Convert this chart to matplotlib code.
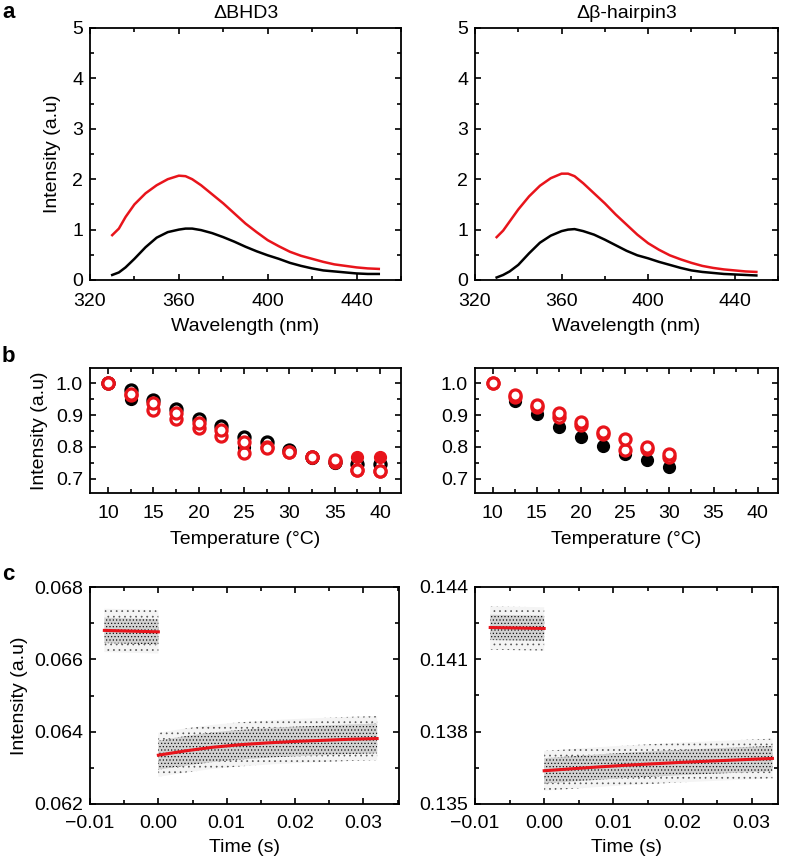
import numpy as np
import matplotlib
matplotlib.use('Agg')
import matplotlib.pyplot as plt
from matplotlib.ticker import MultipleLocator, FuncFormatter

plt.rcParams['font.family'] = ['Liberation Sans', 'DejaVu Sans']
plt.rcParams['hatch.linewidth'] = 0.5
plt.rcParams['axes.linewidth'] = 1.3

# ---- panel a : emission spectra ----
wl = [330, 333, 336, 340, 345, 350, 355, 360, 363, 366, 370, 375, 380, 385, 390,
      395, 400, 405, 410, 415, 420, 425, 430, 435, 440, 445, 450]
bhd_red = [0.89, 1.02, 1.25, 1.50, 1.72, 1.88, 2.00, 2.07, 2.06, 2.00, 1.88, 1.70, 1.52, 1.32, 1.12,
           0.95, 0.79, 0.67, 0.56, 0.48, 0.42, 0.36, 0.31, 0.28, 0.25, 0.23, 0.22]
bhd_black = [0.10, 0.15, 0.25, 0.42, 0.65, 0.84, 0.95, 1.00, 1.02, 1.02, 0.99, 0.93, 0.85, 0.76, 0.66,
             0.57, 0.49, 0.42, 0.34, 0.28, 0.23, 0.19, 0.17, 0.15, 0.13, 0.12, 0.12]
hp_red = [0.85, 0.98, 1.16, 1.40, 1.66, 1.87, 2.02, 2.11, 2.11, 2.06, 1.92, 1.72, 1.52, 1.30, 1.10,
          0.90, 0.73, 0.60, 0.49, 0.41, 0.34, 0.28, 0.24, 0.21, 0.19, 0.17, 0.16]
hp_black = [0.05, 0.10, 0.17, 0.30, 0.53, 0.74, 0.88, 0.97, 1.00, 1.01, 0.97, 0.90, 0.80, 0.69, 0.58,
            0.49, 0.43, 0.36, 0.30, 0.24, 0.19, 0.16, 0.14, 0.12, 0.11, 0.10, 0.09]

# ---- panel b : temperature dependence ----
temp_l = [10, 12.5, 15, 17.5, 20, 22.5, 25, 27.5, 30, 32.5, 35, 37.5, 40]
bhd_blk_open = [1.0, 0.978, 0.947, 0.919, 0.889, 0.866, 0.832, 0.816, 0.790, 0.768, 0.753, 0.745, 0.745]
bhd_blk_fill = [1.0, 0.950, 0.940, 0.912, 0.882, 0.860, 0.800, 0.810, 0.787, 0.765, 0.750, 0.745, 0.745]
bhd_red_a = [1.0, 0.966, 0.937, 0.905, 0.876, 0.853, 0.816, 0.797, 0.784, 0.768, 0.758, 0.726, 0.724]
bhd_red_b = [1.0, 0.962, 0.916, 0.887, 0.858, 0.834, 0.781, 0.800, 0.784, 0.768, 0.752, 0.726, 0.724]
bhd_red_fill = [np.nan] * 11 + [0.768, 0.768]

temp_r = [10, 12.5, 15, 17.5, 20, 22.5, 25, 27.5, 30]
hp_blk_fill = [1.0, 0.944, 0.902, 0.863, 0.832, 0.804, 0.779, 0.758, 0.737]
hp_red_a = [1.0, 0.963, 0.932, 0.905, 0.879, 0.847, 0.824, 0.800, 0.777]
hp_red_b = [1.0, 0.958, 0.925, 0.895, 0.868, 0.840, 0.790, 0.792, 0.768]

# ---- panel c : stopped-flow traces (cloud envelopes + fits) ----
tL_pre = [-0.0079, -0.004, 0.0]
fitL_pre = [0.06680, 0.06678, 0.06676]
coreL_pre_hi = [0.06715, 0.06713, 0.06711]
coreL_pre_lo = [0.06645, 0.06643, 0.06641]
cloudL_pre_hi = [0.06740, 0.06738, 0.06736]
cloudL_pre_lo = [0.06620, 0.06618, 0.06616]

tL_post = [0.0, 0.004, 0.008, 0.012, 0.016, 0.020, 0.024, 0.028, 0.032]
fitL_post = [0.06335, 0.06347, 0.06357, 0.06364, 0.06369, 0.06373, 0.06376, 0.06379, 0.06381]
coreL_hi = [0.06375, 0.06388, 0.06398, 0.06405, 0.06410, 0.06414, 0.06417, 0.06420, 0.06422]
coreL_lo = [0.06295, 0.06306, 0.06316, 0.06323, 0.06328, 0.06332, 0.06335, 0.06338, 0.06340]
cloudL_hi = [0.06397, 0.06409, 0.06419, 0.06426, 0.06431, 0.06435, 0.06438, 0.06441, 0.06443]
cloudL_lo = [0.06275, 0.06287, 0.06297, 0.06304, 0.06309, 0.06313, 0.06316, 0.06319, 0.06321]

tR_pre = [-0.0078, -0.004, 0.0]
fitR_pre = [0.14232, 0.14230, 0.14228]
coreR_pre_hi = [0.14285, 0.14283, 0.14281]
coreR_pre_lo = [0.14180, 0.14178, 0.14176]
cloudR_pre_hi = [0.14320, 0.14318, 0.14316]
cloudR_pre_lo = [0.14140, 0.14138, 0.14136]

tR_post = [0.0, 0.004, 0.008, 0.012, 0.016, 0.020, 0.024, 0.028, 0.033]
fitR_post = [0.13638, 0.13646, 0.13654, 0.13661, 0.13667, 0.13673, 0.13678, 0.13683, 0.13689]
coreR_hi = [0.13690, 0.13698, 0.13706, 0.13713, 0.13719, 0.13725, 0.13730, 0.13735, 0.13741]
coreR_lo = [0.13585, 0.13593, 0.13601, 0.13608, 0.13614, 0.13620, 0.13625, 0.13630, 0.13636]
cloudR_hi = [0.13720, 0.13728, 0.13736, 0.13743, 0.13749, 0.13755, 0.13760, 0.13765, 0.13771]
cloudR_lo = [0.13555, 0.13563, 0.13571, 0.13578, 0.13584, 0.13590, 0.13595, 0.13600, 0.13606]

RED = '#e8141b'
FS = 14

fig = plt.figure(figsize=(7.88, 8.6), dpi=100)
W, H = 788.0, 860.0


def make_ax(x0, x1, y0, y1):
    ax = fig.add_axes([x0 / W, 1 - y1 / H, (x1 - x0) / W, (y1 - y0) / H])
    ax.tick_params(which='both', direction='in', top=True, right=True, labelsize=FS, width=1.2)
    ax.tick_params(which='major', length=4.5, pad=5)
    ax.tick_params(which='minor', length=3)
    return ax


def fmt(nd):
    # unicode minus like the original
    return FuncFormatter(lambda v, p: ('%.*f' % (nd, v)).replace('-', '\u2212'))


# a
for (x0, x1), red, blk, title in [((90, 401), bhd_red, bhd_black, 'ΔBHD3'),
                                  ((475, 778), hp_red, hp_black, 'Δβ-hairpin3')]:
    ax = make_ax(x0, x1, 28, 280)
    ax.plot(wl, red, color=RED, lw=1.8)
    ax.plot(wl, blk, color='black', lw=1.8)
    ax.set_xlim(320, 460)
    ax.set_ylim(0, 5)
    ax.xaxis.set_major_locator(MultipleLocator(40))
    ax.xaxis.set_minor_locator(MultipleLocator(20))
    ax.yaxis.set_major_locator(MultipleLocator(1))
    ax.yaxis.set_minor_locator(MultipleLocator(0.5))
    ax.tick_params(which='major', axis='x', pad=9)
    ax.set_xlabel('Wavelength (nm)', fontsize=FS, labelpad=6)
    ax.set_title(title, fontsize=14, pad=7)
    if x0 == 90:
        ax.set_ylabel('Intensity (a.u)', fontsize=FS, labelpad=8)

# b
ax = make_ax(90, 401, 368, 493)
ax.plot(temp_l, bhd_blk_fill, 'o', ms=8.5, color='black')
ax.plot(temp_l, bhd_blk_open, 'o', ms=8, mfc='white', mec='black', mew=2.3)
ax.plot(temp_l, bhd_red_fill, 'o', ms=8.5, color=RED)
ax.plot(temp_l, bhd_red_b, 'o', ms=8, mfc='white', mec=RED, mew=2.3)
ax.plot(temp_l, bhd_red_a, 'o', ms=8, mfc='white', mec=RED, mew=2.3)
ax.set_ylabel('Intensity (a.u)', fontsize=FS, labelpad=6)

ax2 = make_ax(475, 778, 368, 493)
ax2.plot(temp_r, hp_blk_fill, 'o', ms=8.5, color='black')
ax2.plot(temp_r, hp_red_b, 'o', ms=8, mfc='white', mec=RED, mew=2.3)
ax2.plot(temp_r, hp_red_a, 'o', ms=8, mfc='white', mec=RED, mew=2.3)
for a in (ax, ax2):
    a.set_xlim(8, 42.3)
    a.set_ylim(0.655, 1.048)
    a.xaxis.set_major_locator(MultipleLocator(5))
    a.xaxis.set_minor_locator(MultipleLocator(2.5))
    a.yaxis.set_major_locator(MultipleLocator(0.1))
    a.yaxis.set_minor_locator(MultipleLocator(0.05))
    a.yaxis.set_major_formatter(fmt(1))
    a.set_xlabel('Temperature (°C)', fontsize=FS, labelpad=6)
    a.tick_params(which='major', axis='x', pad=9)


# c
def cloud(ax, t, clo, chi, lo, hi, fit):
    ax.fill_between(t, clo, chi, facecolor='#f4f4f4', edgecolor='#555555', hatch='...', lw=0)
    ax.fill_between(t, lo, hi, facecolor='#d2d2d2', edgecolor='#111111', hatch='.....', lw=0)
    ax.plot(t, fit, color=RED, lw=2.2)


ax = make_ax(90, 399, 587, 804)
cloud(ax, tL_pre, cloudL_pre_lo, cloudL_pre_hi, coreL_pre_lo, coreL_pre_hi, fitL_pre)
cloud(ax, tL_post, cloudL_lo, cloudL_hi, coreL_lo, coreL_hi, fitL_post)
ax.set_xlim(-0.01, 0.0352)
ax.set_ylim(0.062, 0.068)
ax.yaxis.set_major_locator(MultipleLocator(0.002))
ax.yaxis.set_minor_locator(MultipleLocator(0.001))
ax.yaxis.set_major_formatter(fmt(3))
ax.set_ylabel('Intensity (a.u)', fontsize=FS, labelpad=4)

ax2 = make_ax(475, 778, 587, 804)
cloud(ax2, tR_pre, cloudR_pre_lo, cloudR_pre_hi, coreR_pre_lo, coreR_pre_hi, fitR_pre)
cloud(ax2, tR_post, cloudR_lo, cloudR_hi, coreR_lo, coreR_hi, fitR_post)
ax2.set_xlim(-0.01, 0.0338)
ax2.set_ylim(0.135, 0.144)
ax2.yaxis.set_major_locator(MultipleLocator(0.003))
ax2.yaxis.set_minor_locator(MultipleLocator(0.0015))
ax2.yaxis.set_major_formatter(fmt(3))
for a in (ax, ax2):
    a.xaxis.set_major_locator(MultipleLocator(0.01))
    a.xaxis.set_minor_locator(MultipleLocator(0.005))
    a.xaxis.set_major_formatter(fmt(2))
    a.set_xlabel('Time (s)', fontsize=FS, labelpad=5)
    a.tick_params(which='major', axis='x', pad=8)

# panel letters
for letter, y in [('a', 12), ('b', 356), ('c', 575)]:
    fig.text(2 / W, 1 - y / H, letter, fontsize=16, fontweight='bold', va='center', ha='left')

fig.savefig('out.png', dpi=100)
